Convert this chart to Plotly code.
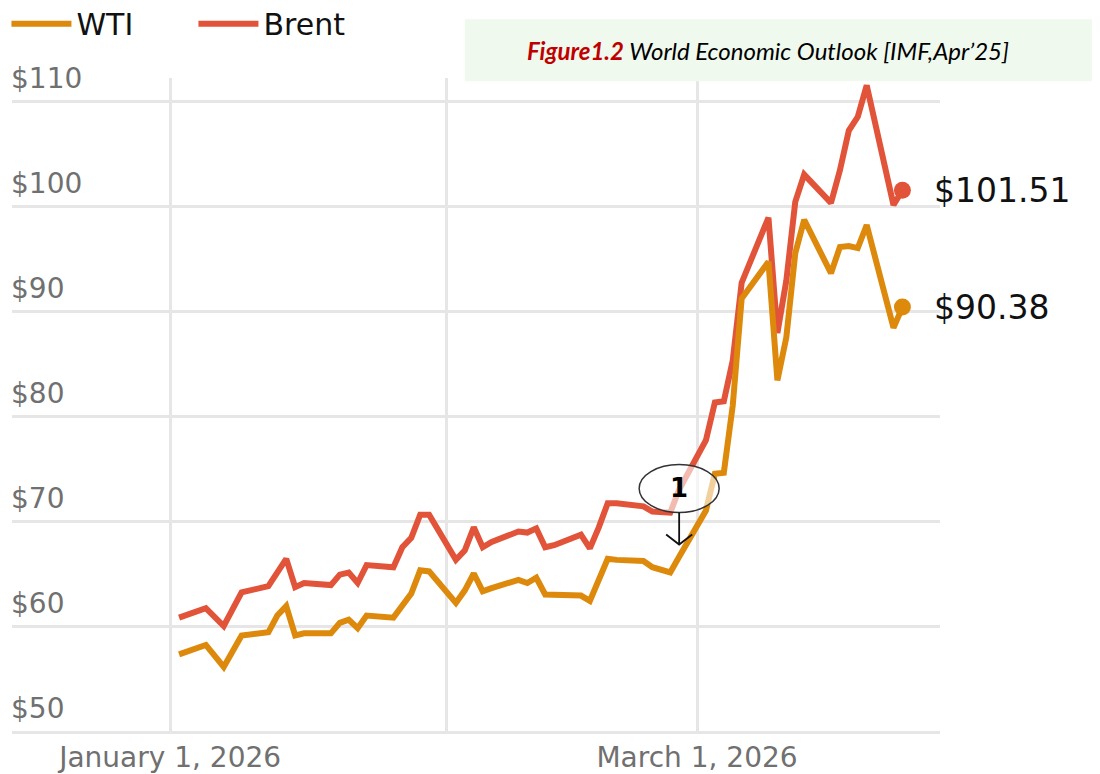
import plotly.graph_objects as go

dates = ["2026-01-02", "2026-01-05", "2026-01-07", "2026-01-09", "2026-01-12", "2026-01-13",
         "2026-01-14", "2026-01-15", "2026-01-16", "2026-01-19", "2026-01-20", "2026-01-21",
         "2026-01-22", "2026-01-23", "2026-01-26", "2026-01-27", "2026-01-28", "2026-01-29",
         "2026-01-30", "2026-02-02", "2026-02-03", "2026-02-04", "2026-02-05", "2026-02-06",
         "2026-02-09", "2026-02-10", "2026-02-11", "2026-02-12", "2026-02-13", "2026-02-16",
         "2026-02-17", "2026-02-18", "2026-02-19", "2026-02-20", "2026-02-23", "2026-02-24",
         "2026-02-25", "2026-02-26", "2026-02-27", "2026-03-02", "2026-03-03", "2026-03-04",
         "2026-03-05", "2026-03-06", "2026-03-09", "2026-03-10", "2026-03-11", "2026-03-12",
         "2026-03-13", "2026-03-16", "2026-03-17", "2026-03-18", "2026-03-19", "2026-03-20",
         "2026-03-23", "2026-03-24"]

wti = [57.3, 58.2, 56.1, 59.1, 59.4, 61.0, 61.9, 59.1, 59.3, 59.3, 60.3, 60.6,
       59.8, 61.0, 60.8, 62.0, 63.1, 65.3, 65.2, 62.2, 63.4, 65.0, 63.3, 63.6,
       64.4, 64.1, 64.6, 63.0, 63.0, 62.9, 62.4, 64.4, 66.4, 66.3, 66.2, 65.6,
       65.4, 65.1, 66.6, 71.0, 74.5, 74.6, 81.0, 91.2, 94.7, 83.4, 87.5, 95.5,
       98.7, 93.6, 96.1, 96.2, 96.0, 98.2, 88.4, 90.38]

brent = [60.8, 61.7, 60.0, 63.2, 63.8, 65.1, 66.4, 63.7, 64.1, 63.9, 64.9, 65.1,
         64.1, 65.8, 65.6, 67.5, 68.4, 70.6, 70.6, 66.3, 67.2, 69.4, 67.5, 68.0,
         69.0, 68.9, 69.3, 67.5, 67.7, 68.7, 67.4, 69.4, 71.7, 71.7, 71.4, 70.9,
         70.9, 70.8, 73.0, 77.7, 81.3, 81.4, 85.3, 92.7, 98.9, 87.9, 92.9, 100.4,
         103.0, 100.3, 103.4, 107.2, 108.5, 111.5, 100.1, 101.51]

x_tickvals = ["2026-01-01", "2026-02-01", "2026-03-01"]
x_ticktext = ["January 1, 2026", "", "March 1, 2026"]
y_tickvals = [50, 60, 70, 80, 90, 100, 110]
y_ticktext = ["$50", "$60", "$70", "$80", "$90", "$100", "$110"]

callout_date = "2026-02-27"
callout_value = 73.1

WTI_COLOR = "#DD890C"
BRENT_COLOR = "#E2543A"
TICK_FONT = dict(family="DejaVu Sans", size=28, color="#707070")

fig = go.Figure()
fig.add_trace(go.Scatter(x=dates, y=brent, mode="lines", name="Brent",
                         line=dict(color=BRENT_COLOR, width=6), legendrank=2))
fig.add_trace(go.Scatter(x=dates, y=wti, mode="lines", name="WTI",
                         line=dict(color=WTI_COLOR, width=6), legendrank=1))
fig.add_trace(go.Scatter(x=[dates[-1]], y=[brent[-1]], mode="markers", showlegend=False,
                         marker=dict(color=BRENT_COLOR, size=17)))
fig.add_trace(go.Scatter(x=[dates[-1]], y=[wti[-1]], mode="markers", showlegend=False,
                         marker=dict(color=WTI_COLOR, size=17)))

for val in (brent[-1], wti[-1]):
    fig.add_annotation(x=dates[-1], y=val, text=f"${val:.2f}", showarrow=False,
                       xanchor="left", yanchor="middle", xshift=30,
                       font=dict(family="DejaVu Sans", size=33, color="#111111"))

# y tick labels sit above their gridlines, at the left edge of the plot
for val, lab in zip(y_tickvals, y_ticktext):
    fig.add_annotation(xref="paper", x=0, y=val, yref="y", text=lab, showarrow=False,
                       xanchor="left", yanchor="bottom", yshift=4, xshift=-3,
                       font=TICK_FONT)

# title box
fig.add_shape(type="rect", xref="paper", yref="paper", x0=0.488, x1=1.2, y0=0.995, y1=1.090,
              fillcolor="#EFF9EE", line=dict(width=0), layer="above")
fig.add_annotation(xref="paper", yref="paper", x=0.815, y=1.042, showarrow=False,
                   xanchor="center", yanchor="middle",
                   text="<b><i><span style='color:#C00000'>Figure1.2</span></i></b><i> World Economic Outlook [IMF,Apr\u201925]</i>",
                   font=dict(family="Lato", size=24, color="#000000"))

# callout ellipse with arrow
fig.add_shape(type="circle", xref="x", yref="y", xsizemode="pixel", ysizemode="pixel",
              xanchor=callout_date, yanchor=callout_value, x0=-40, x1=40, y0=-24, y1=24,
              fillcolor="rgba(255,255,255,0.6)", line=dict(color="#333333", width=1.5),
              layer="above")
fig.add_shape(type="path", xref="x", yref="y", xsizemode="pixel", ysizemode="pixel",
              xanchor=callout_date, yanchor=callout_value,
              path="M0,-24 L0,-56 M-13,-46 L0,-56 L13,-46",
              line=dict(color="#111111", width=1.8), layer="above")
fig.add_annotation(x=callout_date, y=callout_value, text="<b>1</b>", showarrow=False,
                   font=dict(family="DejaVu Sans", size=26, color="#000000"))

# the page body adds an 8px offset, so margins are 8px smaller at left/top
fig.update_layout(
    width=1100, height=774,
    margin=dict(l=4, r=168, t=70, b=51, autoexpand=False),
    paper_bgcolor="white", plot_bgcolor="white",
    showlegend=True,
    legend=dict(orientation="h", x=-0.006, xanchor="left", y=1.123, yanchor="top",
                font=dict(family="DejaVu Sans", size=30, color="#111111"),
                bgcolor="rgba(0,0,0,0)", itemwidth=60,
                entrywidth=112, entrywidthmode="pixels"),
    xaxis=dict(type="date", range=["2025-12-14 07:00", "2026-03-28 05:00"],
               tickvals=x_tickvals, ticktext=x_ticktext, tickfont=TICK_FONT,
               showgrid=True, gridcolor="#E6E6E6", gridwidth=2.5,
               showline=True, linecolor="#E6E6E6", linewidth=2.5,
               zeroline=False, ticks="", automargin=False),
    yaxis=dict(range=[50, 112.2], tickvals=y_tickvals, showticklabels=False,
               showgrid=True, gridcolor="#E6E6E6", gridwidth=2.5,
               zeroline=False, showline=False, ticks="", automargin=False),
)

fig.write_html("out.html")
